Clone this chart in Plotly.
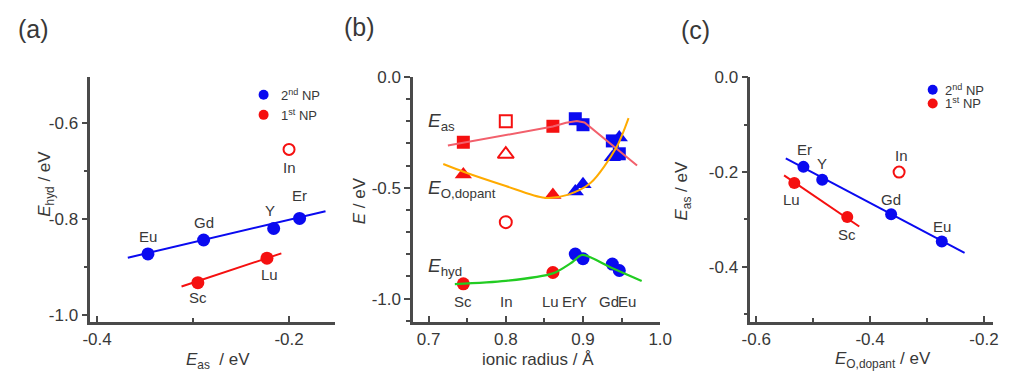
import plotly.graph_objects as go

# ---- dopant data -------------------------------------------------------
elements = ["Sc", "In", "Lu", "Er", "Y", "Gd", "Eu"]
radius = [0.745, 0.800, 0.861, 0.890, 0.900, 0.938, 0.947]      # ionic radius / Å
E_as = [-0.295, -0.200, -0.223, -0.189, -0.216, -0.289, -0.347]  # eV
E_O = [-0.440, -0.349, -0.533, -0.517, -0.484, -0.363, -0.274]   # E_O,dopant / eV
E_hyd = [-0.933, -0.655, -0.882, -0.799, -0.820, -0.844, -0.873] # eV
group = ["1st", "out", "1st", "2nd", "2nd", "2nd", "2nd"]        # nearest-neighbour class

# ---- fitted lines --------------------------------------------------------
# (a) E_hyd vs E_as
fit_a_2nd_x = [-0.368, -0.162]
fit_a_2nd_y = [-0.881, -0.784]
fit_a_1st_x = [-0.312, -0.208]
fit_a_1st_y = [-0.941, -0.872]
# (c) E_as vs E_O,dopant
fit_c_2nd_x = [-0.548, -0.234]
fit_c_2nd_y = [-0.171, -0.371]
fit_c_1st_x = [-0.551, -0.419]
fit_c_1st_y = [-0.207, -0.315]
# (b) guide curves vs ionic radius
guide_as_x = [0.725, 0.800, 0.861, 0.878, 0.892, 0.902, 0.970]
guide_as_y = [-0.310, -0.262, -0.224, -0.207, -0.199, -0.206, -0.400]
guide_O_x = [0.719, 0.746, 0.800, 0.850, 0.880, 0.910, 0.943, 0.959]
guide_O_y = [-0.393, -0.429, -0.492, -0.545, -0.532, -0.478, -0.320, -0.186]
guide_hyd_x = [0.734, 0.800, 0.861, 0.885, 0.899, 0.936, 0.976]
guide_hyd_y = [-0.934, -0.920, -0.886, -0.838, -0.803, -0.859, -0.920]

BLUE = "#0a0af0"
RED = "#f51010"
TXT = "#383838"
AX = "#4a4a4a"
FONT = "Liberation Sans, Arial, sans-serif"
W, H = 1013, 381


def pick(vals, g):
    return [v for v, k in zip(vals, group) if k == g]


fig = go.Figure()


def dots(x, y, color, xa, ya, symbol="circle", size=13, open_=False):
    fig.add_trace(go.Scatter(
        x=x, y=y, mode="markers", xaxis=xa, yaxis=ya,
        showlegend=False, cliponaxis=False,
        marker=dict(symbol=symbol + ("-open" if open_ else ""), size=size,
                    color=color, line=dict(width=2 if open_ else 0, color=color))))


def line(x, y, color, xa, ya, width=2, shape="linear"):
    fig.add_trace(go.Scatter(
        x=x, y=y, mode="lines", xaxis=xa, yaxis=ya, showlegend=False,
        line=dict(color=color, width=width, shape=shape, smoothing=0.8)))


# ---- panel (a) -----------------------------------------------------------
line(fit_a_2nd_x, fit_a_2nd_y, BLUE, "x", "y")
line(fit_a_1st_x, fit_a_1st_y, RED, "x", "y")
dots(pick(E_as, "2nd"), pick(E_hyd, "2nd"), BLUE, "x", "y")
dots(pick(E_as, "1st"), pick(E_hyd, "1st"), RED, "x", "y")
dots(pick(E_as, "out"), pick(E_hyd, "out"), RED, "x", "y", size=11, open_=True)

# ---- panel (b) -----------------------------------------------------------
for vals, sym, sz in ((E_as, "square", 13), (E_O, "triangle-up", 15), (E_hyd, "circle", 13)):
    dots(pick(radius, "2nd"), pick(vals, "2nd"), BLUE, "x2", "y2", sym, sz)
    dots(pick(radius, "1st"), pick(vals, "1st"), RED, "x2", "y2", sym, sz)
    dots(pick(radius, "out"), pick(vals, "out"), RED, "x2", "y2", sym, sz - 1, open_=True)
line(guide_as_x, guide_as_y, "#f2606c", "x2", "y2")
line(guide_O_x, guide_O_y, "#ffab00", "x2", "y2", shape="spline")
line(guide_hyd_x, guide_hyd_y, "#22cc22", "x2", "y2", width=2.2, shape="spline")

# ---- panel (c) -----------------------------------------------------------
line(fit_c_2nd_x, fit_c_2nd_y, BLUE, "x3", "y3")
line(fit_c_1st_x, fit_c_1st_y, RED, "x3", "y3")
dots(pick(E_O, "2nd"), pick(E_as, "2nd"), BLUE, "x3", "y3", size=12)
dots(pick(E_O, "1st"), pick(E_as, "1st"), RED, "x3", "y3", size=12)
dots(pick(E_O, "out"), pick(E_as, "out"), RED, "x3", "y3", size=11, open_=True)

# ---- key glyphs ----------------------------------------------------------
dots([-0.2265], [-0.541], BLUE, "x", "y", size=10)
dots([-0.2265], [-0.583], RED, "x", "y", size=10)
dots([-0.290], [-0.026], BLUE, "x3", "y3", size=10)
dots([-0.290], [-0.055], RED, "x3", "y3", size=10)
for kx, sym, sz in ((0.852, "square", 10), (0.889, "triangle-up", 12), (0.926, "circle", 10)):
    dots([kx], [0.160], RED, "x2", "y2", sym, size=sz)
    dots([kx], [0.077], BLUE, "x2", "y2", sym, size=sz)

ann = []


def note(text, x, y, xref, yref, size=15, xs=0, ys=0, xanchor="center", yanchor="middle"):
    ann.append(dict(text=text, x=x, y=y, xref=xref, yref=yref, showarrow=False,
                    xshift=xs, yshift=ys, xanchor=xanchor, yanchor=yanchor,
                    font=dict(size=size, color=TXT, family=FONT)))


# element labels (a): offsets in px (dx, dy)
lab_a = {"Eu": (0, 17), "Gd": (0, 17), "Y": (-4, 18), "Er": (0, 23),
         "In": (0, -18), "Lu": (3, -16), "Sc": (0, -15)}
for e, xv, yv in zip(elements, E_as, E_hyd):
    dx, dy = lab_a[e]
    note(e, xv, yv, "x", "y", 15, dx, dy)

# element labels (c)
lab_c = {"Er": (1, 17), "Y": (0, 16), "In": (2, 17), "Gd": (0, 15),
         "Eu": (0, 15), "Lu": (-3, -17), "Sc": (0, -17)}
for e, xv, yv in zip(elements, E_O, E_as):
    dx, dy = lab_c[e]
    note(e, xv, yv, "x3", "y3", 15, dx, dy)

# element labels (b) along the bottom row
lab_b = {"Sc": 0, "In": 1, "Lu": -2, "Er": -6, "Y": -1, "Gd": -3, "Eu": 8}
for e, xv in zip(elements, radius):
    note(e, xv, -1.012, "x2", "y2", 15, lab_b[e], 0)

# key text
note("2<sup>nd</sup> NP", -0.210, -0.541, "x", "y", 13, xanchor="left")
note("1<sup>st</sup> NP", -0.210, -0.583, "x", "y", 13, xanchor="left")
note("2<sup>nd</sup> NP", -0.272, -0.026, "x3", "y3", 13, xanchor="left")
note("1<sup>st</sup> NP", -0.272, -0.055, "x3", "y3", 13, xanchor="left")
note("1<sup>st</sup> NP", 0.943, 0.160, "x2", "y2", 13, xanchor="left")
note("2<sup>nd</sup> NP", 0.943, 0.077, "x2", "y2", 13, xanchor="left")

# series names inside (b)
note("<i>E</i><sub>as</sub>", 0.697, -0.205, "x2", "y2", 19, xanchor="left")
note("<i>E</i><sub>O,dopant</sub>", 0.697, -0.505, "x2", "y2", 19, xanchor="left")
note("<i>E</i><sub>hyd</sub>", 0.697, -0.855, "x2", "y2", 19, xanchor="left")

# panel tags and axis titles (paper coordinates)
def P(px, py):
    return px / W, 1 - py / H


for tag, (px, py) in (("(a)", (25, 21)), ("(b)", (358, 19)), ("(c)", (701, 22))):
    x, y = P(px, py)
    note(tag, x, y, "paper", "paper", 25)

x, y = P(213, 363); note("<i>E</i><sub>as</sub>  / eV", x, y, "paper", "paper", 17)
x, y = P(540, 362); note("ionic radius / Å", x, y, "paper", "paper", 17)
x, y = P(893, 362); note("<i>E</i><sub>O,dopant</sub> / eV", x, y, "paper", "paper", 17)
for text, px, py in (("<i>E</i><sub>hyd</sub> / eV", 25, 180),
                     ("<i>E</i> / eV", 358, 198),
                     ("<i>E</i><sub>as</sub> / eV", 702, 187)):
    x, y = P(px, py)
    ann.append(dict(text=text, x=x, y=y, xref="paper", yref="paper", showarrow=False,
                    textangle=-90, font=dict(size=17, color=TXT, family=FONT)))


def xaxis(dom, rng, vals, minor_step, anchor):
    return dict(domain=dom, range=rng, anchor=anchor, showline=True, linecolor=AX,
                linewidth=2.5, showgrid=False, zeroline=False, ticks="inside",
                ticklen=6, tickwidth=2, tickcolor=AX, tickmode="array", tickvals=vals,
                ticktext=[f"{v:.1f}" for v in vals], ticklabelstandoff=0,
                minor=dict(tick0=0, dtick=minor_step, ticks="inside",
                           ticklen=4, tickwidth=2, tickcolor=AX, showgrid=False),
                tickfont=dict(size=17, color=TXT, family=FONT))


def yaxis(dom, rng, vals, minor_step, anchor):
    return dict(domain=dom, range=rng, anchor=anchor, showline=True, linecolor=AX,
                linewidth=2.5, showgrid=False, zeroline=False, ticks="outside",
                ticklen=6, tickwidth=2, tickcolor=AX, tickmode="array", tickvals=vals,
                ticktext=[f"{v:.1f}" for v in vals],
                minor=dict(tick0=0, dtick=minor_step, ticks="outside",
                           ticklen=4, tickwidth=2, tickcolor=AX, showgrid=False),
                tickfont=dict(size=17, color=TXT, family=FONT))


fig.update_layout(
    width=W, height=H, margin=dict(l=0, r=0, t=0, b=0),
    paper_bgcolor="white", plot_bgcolor="white", showlegend=False,
    xaxis=xaxis([83 / W, 333 / W], [-0.4071, -0.152], [-0.4, -0.2], 0.1, "y"),
    yaxis=yaxis([1 - 323 / H, 1 - 70 / H], [-1.0147, -0.5036],
                [-1.0, -0.8, -0.6], 0.1, "x"),
    xaxis2=xaxis([412.7 / W, 665 / W], [0.680, 1.0], [0.7, 0.8, 0.9, 1.0], 0.05, "y2"),
    yaxis2=yaxis([1 - 322.7 / H, 1 - 70 / H], [-1.103, 0.0], [-1.0, -0.5, 0.0], 0.1, "x2"),
    xaxis3=xaxis([757 / W, 1005 / W], [-0.6103, -0.1838], [-0.6, -0.4, -0.2], 0.1, "y3"),
    yaxis3=yaxis([1 - 322.7 / H, 1 - 70.7 / H], [-0.516, 0.0], [-0.4, -0.2, 0.0], 0.1, "x3"),
    annotations=ann,
)

fig.write_html("out.html")
